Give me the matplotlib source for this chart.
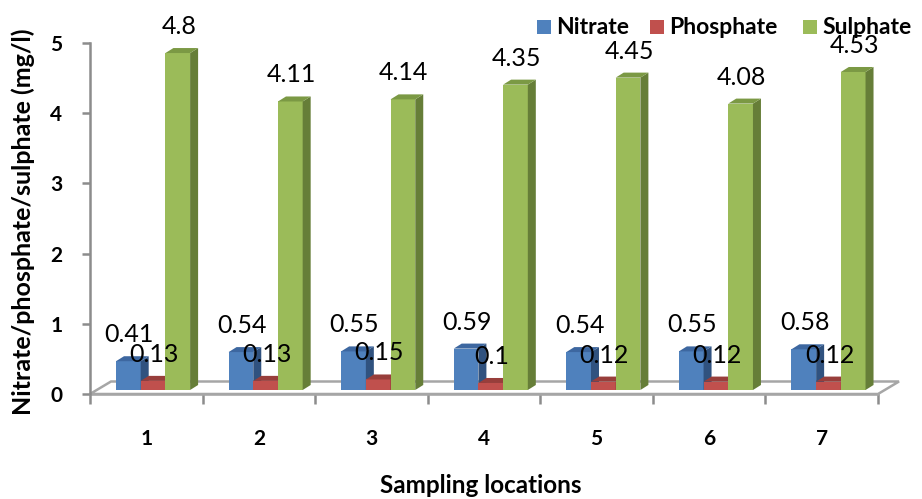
import matplotlib
matplotlib.use("Agg")
import matplotlib.pyplot as plt
from matplotlib.patches import Polygon, Rectangle
import numpy as np

plt.rcParams["font.family"] = ["Lato", "DejaVu Sans"]

locations = ["1", "2", "3", "4", "5", "6", "7"]
nitrate = [0.41, 0.54, 0.55, 0.59, 0.54, 0.55, 0.58]
phosphate = [0.13, 0.13, 0.15, 0.10, 0.12, 0.12, 0.12]
sulphate = [4.8, 4.11, 4.14, 4.35, 4.45, 4.08, 4.53]
value_labels = {
    "nitrate": ["0.41", "0.54", "0.55", "0.59", "0.54", "0.55", "0.58"],
    "phosphate": ["0.13", "0.13", "0.15", "0.1", "0.12", "0.12", "0.12"],
    "sulphate": ["4.8", "4.11", "4.14", "4.35", "4.45", "4.08", "4.53"],
}

W, H, DPI = 922, 499, 100
fig = plt.figure(figsize=(W / DPI, H / DPI), dpi=DPI)
# axes box in pixels: x 90..878, zero line at 394, 70.2 px per unit
ax = fig.add_axes([90 / W, (H - 394) / H, 788 / W, 351 / H])
ax.set_xlim(0.5, 7.5)
ax.set_ylim(0, 5)
ax.set_facecolor("none")

px_x = 7 / 788          # data units per pixel, x
px_y = 5 / 351          # data units per pixel, y

# floor of the 3-D plot
fdx, fdy = 21 * px_x, 12.5 * px_y
floor = Polygon([(0.5, 0), (7.5, 0), (7.5 + fdx, fdy), (0.5 + fdx, fdy)],
                closed=True, facecolor="white", edgecolor="#a6a6a6", lw=1.8,
                clip_on=False, zorder=1)
ax.add_patch(floor)

series = [
    ("Nitrate", nitrate, value_labels["nitrate"], "#4f81bd", "#3d67a0", "#30527f"),
    ("Phosphate", phosphate, value_labels["phosphate"], "#c0504d", "#983e3b", "#8a3532"),
    ("Sulphate", sulphate, value_labels["sulphate"], "#9bbb59", "#7b9944", "#667e38"),
]

x = np.arange(1, len(locations) + 1)
bw = 24.7 * px_x
first_left = 26 * px_x - 0.5
base = 4 * px_y
ddx, ddy = 8 * px_x, 5 * px_y

for k, (name, vals, labels, front, top, side) in enumerate(series):
    lefts = x + first_left + k * bw
    ax.bar(lefts, vals, width=bw, bottom=base, align="edge", color=front,
           edgecolor="none", zorder=3 + k, label=name)
    for xl, v, lab in zip(lefts, vals, labels):
        yt = base + v
        ax.add_patch(Polygon([(xl + bw, base), (xl + bw + ddx, base + ddy),
                              (xl + bw + ddx, yt + ddy), (xl + bw, yt)],
                             facecolor=side, edgecolor="none", zorder=3 + k))
        ax.add_patch(Polygon([(xl, yt), (xl + bw, yt), (xl + bw + ddx, yt + ddy),
                              (xl + ddx, yt + ddy)],
                             facecolor=top, edgecolor="none", zorder=3 + k))
        ax.text(xl + bw / 2 + px_x, yt + ddy + 14 * px_y, lab, ha="center",
                va="baseline", fontsize=18, color="black", zorder=10, clip_on=False)

# axes and ticks
for s in ["top", "right", "bottom"]:
    ax.spines[s].set_visible(False)
ax.spines["left"].set_color("#8c8c8c")
ax.spines["left"].set_linewidth(1.8)
ax.set_yticks([0, 1, 2, 3, 4, 5])
ax.set_yticklabels(["0", "1", "2", "3", "4", "5"], fontsize=15, fontweight="bold")
ax.tick_params(axis="y", length=6, width=1.8, color="#8c8c8c", pad=14)

ax.set_xticks(np.arange(0.5, 8, 1.0))
ax.set_xticklabels([])
ax.set_xticks(x, minor=True)
ax.set_xticklabels(locations, minor=True, fontsize=15, fontweight="bold")
ax.tick_params(axis="x", which="major", length=7, width=1.8, color="#8c8c8c",
               direction="out")
ax.tick_params(axis="x", which="minor", length=0, pad=25)
ax.plot([0.5, 7.5], [0, 0], color="#a6a6a6", lw=1.8, clip_on=False, zorder=2)

fig.text(23 / W, 1 - 222 / H, "Nitrate/phosphate/sulphate (mg/l)", rotation=90,
         ha="center", va="center", fontsize=18, fontweight="bold")
fig.text(481 / W, 6 / H, "Sampling locations", ha="center", va="baseline",
         fontsize=17.5, fontweight="bold")

# legend entries along the top right
legend_x = [537, 650, 803]
for lx, (name, _, _, color, _, _) in zip(legend_x, series):
    fig.patches.append(Rectangle((lx / W, 1 - 34 / H), 14 / W, 14 / H,
                                 transform=fig.transFigure, facecolor=color,
                                 edgecolor="none"))
    fig.text((lx + 19) / W, 1 - 27 / H, name, ha="left", va="center",
             fontsize=16.5, fontweight="bold", zorder=11)

fig.savefig("out.png", dpi=DPI, facecolor="white")
